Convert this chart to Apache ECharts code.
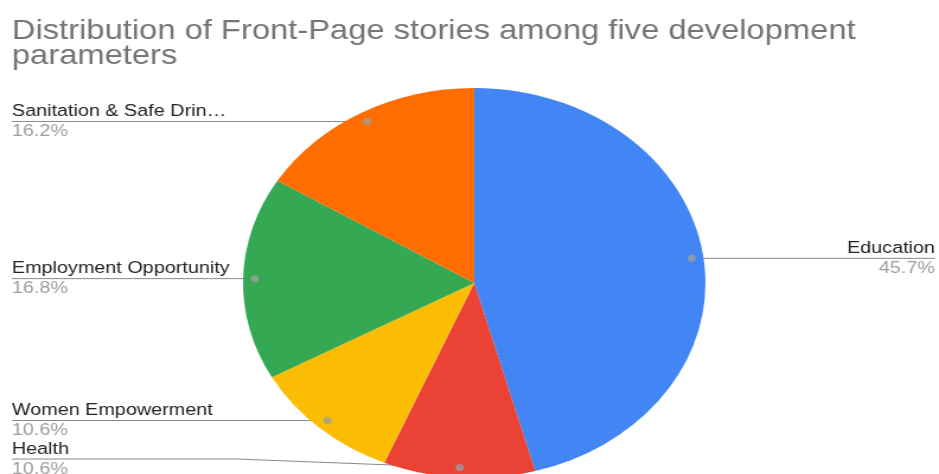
<!DOCTYPE html>
<html>
<head>
<meta charset="utf-8">
<script src="https://cdn.jsdelivr.net/npm/echarts@6/dist/echarts.min.js"></script>
<style>
  html, body { margin: 0; padding: 0; background: #fff; overflow: hidden; }
  #wrap { width: 939px; height: 474px; overflow: hidden; position: relative; }
  /* the chart is laid out on a narrower canvas and stretched sideways */
  #chart { width: 792px; height: 474px; transform: scaleX(1.18561); transform-origin: 0 0; }
</style>
</head>
<body>
<div id="wrap"><div id="chart"></div></div>
<script>
// Share of front-page stories per development parameter (%)
const categories = ['Education', 'Health', 'Women Empowerment', 'Employment Opportunity', 'Sanitation & Safe Drinking Water'];
const shares = [45.7, 10.6, 10.6, 16.8, 16.2];
const sliceColors = ['#4285F4', '#EA4335', '#FBBC04', '#34A853', '#FF6D01'];
const titleText = 'Distribution of Front-Page stories among five development\nparameters';

// layout (unstretched canvas units)
const CX = 400, CY = 283, R = 195, R_DOT = 185;
const EDGE_L = 10, EDGE_R = 788.6, LABEL_MAX_Y = 459;
const LABEL_FONT = 'Liberation Sans, Arial, Helvetica, sans-serif';
const LABEL_SIZE = 16.7;
const NAME_WIDTH = 186;

const total = shares.reduce((a, b) => a + b, 0);
let acc = 0;
const dotData = shares.map(v => { const mid = acc + v / 2; acc += v; return [1, mid]; });

function fitName(name) {
  const fmt = echarts.format || {};
  if (typeof fmt.truncateText === 'function') {
    return fmt.truncateText(name, NAME_WIDTH, LABEL_SIZE + 'px ' + LABEL_FONT, '…');
  }
  return name;
}

const pieData = categories.map((name, i) => ({ name: name, value: shares[i] }));

const chart = echarts.init(document.getElementById('chart'), null, { renderer: 'canvas' });
chart.setOption({
  backgroundColor: '#ffffff',
  animation: false,
  title: {
    text: titleText,
    left: 10,
    top: 19,
    padding: 0,
    textStyle: { fontFamily: LABEL_FONT, fontSize: 27.6, fontWeight: 'normal', color: '#757575', lineHeight: 25 }
  },
  polar: { center: [CX, CY], radius: R_DOT },
  angleAxis: { type: 'value', min: 0, max: total, startAngle: 90, clockwise: true, show: false },
  radiusAxis: { type: 'value', min: 0, max: 1, show: false },
  series: [
    {
      type: 'pie',
      center: [CX, CY],
      radius: R,
      startAngle: 90,
      clockwise: true,
      silent: true,
      data: pieData,
      color: sliceColors,
      label: { show: false },
      labelLine: { show: false },
      itemStyle: { borderWidth: 0 }
    },
    {
      // transparent twin of the pie, used only to anchor the labels
      type: 'pie',
      center: [CX, CY],
      radius: R_DOT,
      startAngle: 90,
      clockwise: true,
      silent: true,
      avoidLabelOverlap: false,
      data: pieData,
      itemStyle: { color: 'rgba(0,0,0,0)', borderWidth: 0 },
      label: {
        show: true,
        position: 'outside',
        formatter: p => '{n|' + fitName(p.name) + '}\n{p|' + p.value.toFixed(1) + '%}',
        rich: {
          n: { fontFamily: LABEL_FONT, fontSize: LABEL_SIZE, color: '#222222', lineHeight: 20 },
          p: { fontFamily: LABEL_FONT, fontSize: LABEL_SIZE, color: '#9e9e9e', lineHeight: 20 }
        }
      },
      labelLine: { show: true, length: 0, length2: 0, smooth: false, lineStyle: { color: '#8a8a8a', width: 1 } },
      labelLayout: function (params) {
        const pts = params.labelLinePoints;
        if (!pts || !pts.length) return {};
        const start = pts[0];
        const left = start[0] < CX;
        const y = Math.min(start[1], LABEL_MAX_Y);
        const edgeX = left ? EDGE_L : EDGE_R;
        return {
          x: edgeX,
          y: y,
          align: left ? 'left' : 'right',
          verticalAlign: 'middle',
          labelLinePoints: [start, [(start[0] + edgeX) / 2, y], [edgeX, y]]
        };
      }
    },
    {
      type: 'scatter',
      coordinateSystem: 'polar',
      silent: true,
      symbol: 'circle',
      symbolSize: 7,
      itemStyle: { color: '#9e9e9e' },
      data: dotData,
      z: 5
    }
  ]
});
</script>
</body>
</html>
